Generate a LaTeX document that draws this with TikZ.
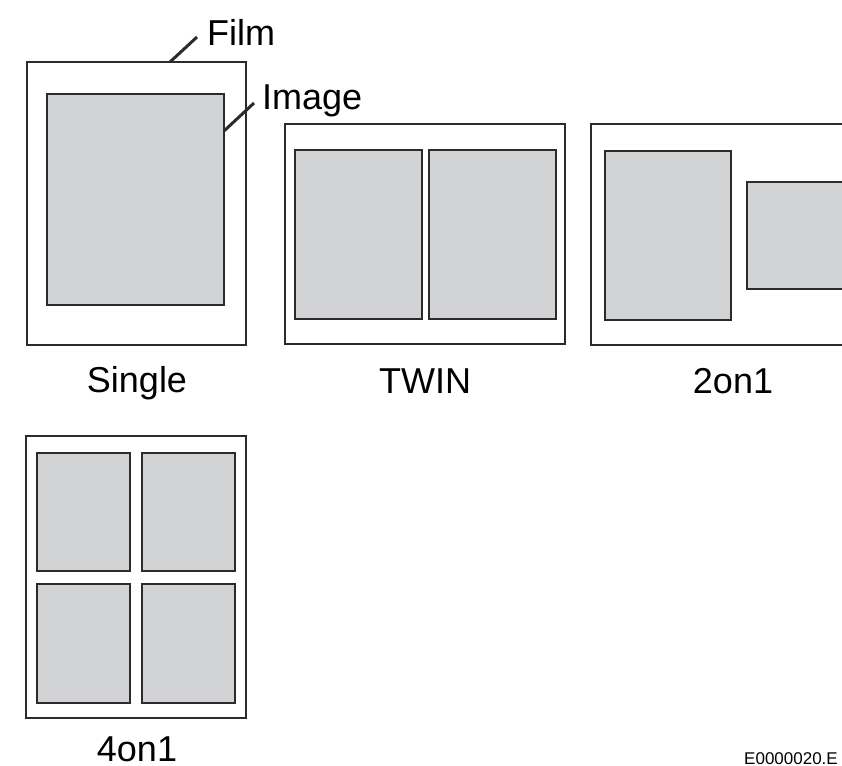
\documentclass[tikz,border=0pt]{standalone}
\usepackage{fontspec}
\setmainfont{Liberation Sans}
\definecolor{vien}{RGB}{45,42,43}
\definecolor{xam}{RGB}{209,211,212}
\begin{document}
\begin{tikzpicture}[
			x=1pt, y=-1pt,
			line join=miter,
			phim/.style={draw=vien, line width=1.5pt},
			anh/.style={fill=xam, draw=vien, line width=2pt},
			nhan/.style={font=\fontsize{36}{42}\selectfont, inner sep=0pt, anchor=base},
			chi/.style={vien, line width=3pt}
			]
			\useasboundingbox (0,0) rectangle (842,765);
			\clip (0,0) rectangle (842,765);
			% Single
			\begin{scope}[shift={(27,62)}]
				\draw[phim] (0,0) rectangle (219,283);
				\draw[anh] (20,32) rectangle (197,243);
				\coordinate (filmtip) at (143,0);
				\coordinate (imagetip) at (197,69);
				\node[nhan] (single) at (110,330) {Single};
			\end{scope}
			\node[nhan, anchor=base west] (film) at (207,46) {Film};
			\node[nhan, anchor=base west] (image) at (262,110) {Image};
			\draw[chi] (filmtip) -- ([shift={(-10,-9)}]film.base west);
			\draw[chi] (imagetip) -- ([shift={(-8,-7)}]image.base west);
			% TWIN
			\begin{scope}[shift={(285,124)}]
				\draw[phim] (0,0) rectangle (280,220);
				\draw[anh] (10,26) rectangle (137,195);
				\draw[anh] (144,26) rectangle (271,195);
				\node[nhan] (twin) at (140,269) {TWIN};
			\end{scope}
			% 2on1
			\begin{scope}[shift={(591,124)}]
				\draw[phim] (0,0) rectangle (290,221);
				\draw[anh] (14,27) rectangle (140,196);
				\draw[anh] (156,58) rectangle (300,165);
				\node[nhan] (twoonone) at (142,269) {2on1};
			\end{scope}
			% 4on1
			\begin{scope}[shift={(26,436)}]
				\draw[phim] (0,0) rectangle (220,282);
				\draw[anh] (11,17) rectangle (104,135);
				\draw[anh] (116,17) rectangle (209,135);
				\draw[anh] (11,148) rectangle (104,267);
				\draw[anh] (116,148) rectangle (209,267);
				\node[nhan] (fouronone) at (111,325) {4on1};
			\end{scope}
			\node[font=\fontsize{17}{19}\selectfont, inner sep=0pt, anchor=base west] (maso) at (744,764) {E0000020.E};
		\end{tikzpicture}
\end{document}
